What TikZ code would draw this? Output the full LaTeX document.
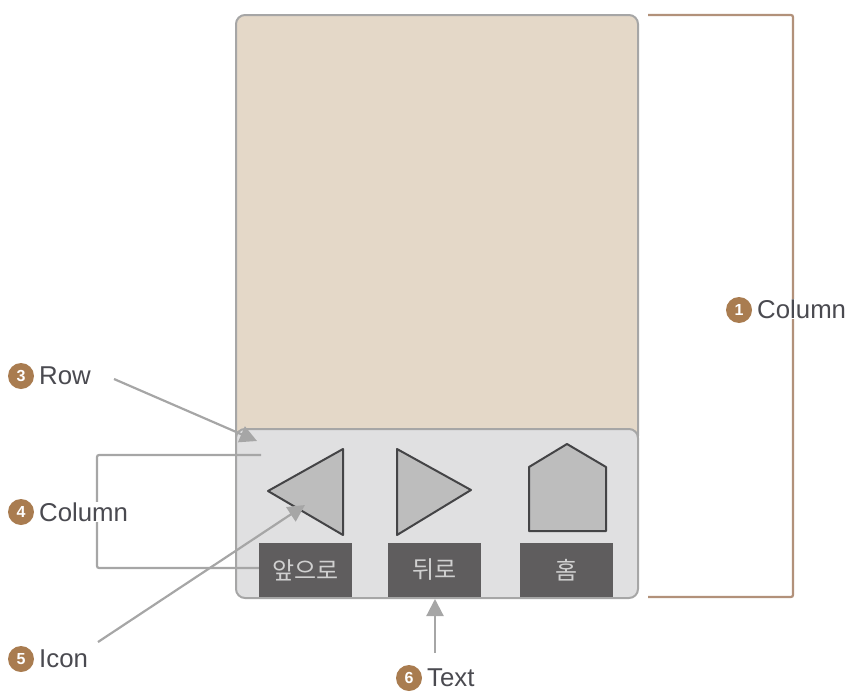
\documentclass[tikz,border=0pt]{standalone}
\usepackage{fontspec}
\setmainfont{Liberation Sans}
\newfontfamily\krfont{Noto Sans CJK KR}[Scale=1]
\usetikzlibrary{arrows.meta}
\definecolor{edgegray}{HTML}{A6A6A6}
\definecolor{beige}{HTML}{E4D8C8}
\definecolor{rowgray}{HTML}{E0E0E1}
\definecolor{icongray}{HTML}{BDBDBD}
\definecolor{icondark}{HTML}{444446}
\definecolor{boxdark}{HTML}{5F5D5E}
\definecolor{boxtext}{HTML}{D0D0D0}
\definecolor{bracketbrown}{HTML}{B2917A}
\definecolor{badgebrown}{HTML}{A97C50}
\definecolor{labeltext}{HTML}{4A4A50}
\tikzset{
  x=1pt,y=-1pt,
  panel/.style={draw=edgegray,line width=2pt,rounded corners=9pt},
  iconshape/.style={draw=icondark,fill=icongray,line width=2pt,line join=round},
  textbox/.style={fill=boxdark,text=boxtext,minimum width=93pt,minimum height=54pt,inner sep=0pt,font=\krfont\fontsize{24}{26}\selectfont},
  callout/.style={draw=edgegray,line width=2.2pt},
  pointer/.style={callout,-{Triangle[length=17pt,width=17pt]}},
  badge/.style={circle,fill=badgebrown,text=white,minimum size=26pt,inner sep=0pt,font=\bfseries\fontsize{16}{16}\selectfont},
  lab/.style={fill=white,text=labeltext,inner sep=1pt,anchor=west,font=\fontsize{25.8}{27}\selectfont},
}
\begin{document}
\begin{tikzpicture}
\useasboundingbox (0,0) rectangle (854,696);
% panels
\draw[panel,fill=beige] (236,15) rectangle (638,445);
\draw[panel,fill=rowgray] (236,429) rectangle (638,598);
% icons
\draw[iconshape] (343,449) -- (343,535) -- (268,491) -- cycle;
\draw[iconshape] (397,449) -- (397,535) -- (471,490) -- cycle;
\draw[iconshape] (567,444) -- (606,467) -- (606,531) -- (529,531) -- (529,467) -- cycle;
% text boxes
\node[textbox] (tb1) at (305.5,570) {앞으로};
\node[textbox] (tb2) at (434.5,570) {뒤로};
\node[textbox] (tb3) at (566.5,570) {홈};
% right bracket
\coordinate (rt) at (648,15);
\coordinate (rb) at (648,597);
\draw[bracketbrown,line width=2.2pt,rounded corners=2pt] (rt) -- (793,15) -- (793,597) -- (rb);
% left column bracket
\coordinate (ct) at (261,455);
\coordinate (cb) at (97,568);
\draw[callout,rounded corners=2pt] (ct) -- (97,455) -- (cb) -- (tb1.west |- cb);
% arrows
\coordinate (rowfrom) at (114,379);
\coordinate (rowto) at (257,441);
\draw[pointer] (rowfrom) -- (rowto);
\coordinate (iconfrom) at (98,642);
\coordinate (iconto) at (305,505);
\draw[pointer] (iconfrom) -- (iconto);
\coordinate (textfrom) at (435,653);
\coordinate (textto) at (435,599);
\draw[pointer] (textfrom) -- (textto);
% labels
\node[badge] (b1) at (739,310) {1};
\node[lab] (l1) at (756,309) {Column};
\node[badge] (b3) at (21,376) {3};
\node[lab] (l3) at (38,376) {Row};
\node[badge] (b4) at (21,512) {4};
\node[lab] (l4) at (38,512) {Column};
\node[badge] (b5) at (21,659) {5};
\node[lab] (l5) at (38,659) {Icon};
\node[badge] (b6) at (409,678) {6};
\node[lab] (l6) at (426,678) {Text};
\end{tikzpicture}
\end{document}
